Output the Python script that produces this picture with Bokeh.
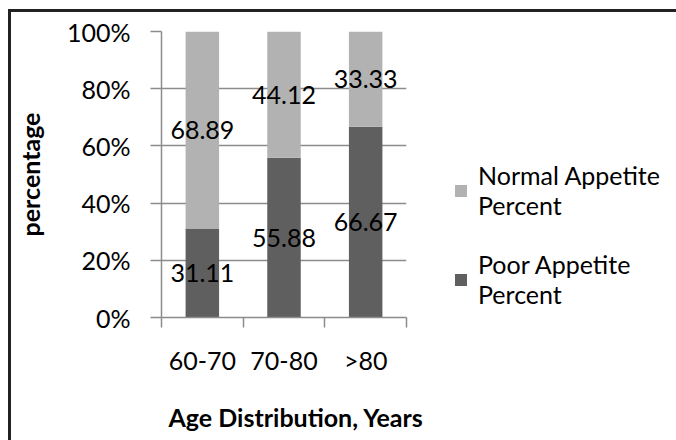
from bokeh.plotting import figure
from bokeh.models import (Range1d, FixedTicker, PrintfTickFormatter, Legend, LegendItem,
                          Title, ColumnDataSource)
from bokeh.core.properties import value
from bokeh.embed import file_html
from bokeh.resources import INLINE

# ---- data ----
categories = ["60-70", "70-80", ">80"]
poor_pct = [31.11, 55.88, 66.67]
normal_pct = [68.89, 44.12, 33.33]
y_ticks = [0, 20, 40, 60, 80, 100]
series_names = ["Normal Appetite\nPercent", "Poor Appetite\nPercent"]
x_title = "Age Distribution, Years"
y_title = "percentage"

FONT = "Lato"
DARK = "#5f5f5f"
LIGHT = "#b2b2b2"
GRID = "#8c8c8c"
FS = "25px"

xs = [i + 0.5 for i in range(len(categories))]
src = ColumnDataSource(dict(x=xs, poor=poor_pct, normal=normal_pct))

p = figure(frame_width=245, frame_height=286, output_backend="svg", toolbar_location=None,
           x_range=Range1d(0, len(categories)), y_range=Range1d(0, 100),
           min_border_left=150, min_border_right=265, min_border_top=19,
           min_border_bottom=119)
p.styles = {"border-top": "3px solid #222222", "border-left": "3px solid #222222",
            "margin-left": "8px", "margin-top": "9px"}
p.outline_line_color = None
p.background_fill_color = "white"

r = p.vbar_stack(["poor", "normal"], x="x", width=0.41, color=[DARK, LIGHT],
                 line_color=None, source=src)

# data labels at segment centers
lab_x = xs + xs
lab_y = [v / 2 for v in poor_pct] + [a + b / 2 for a, b in zip(poor_pct, normal_pct)]
lab_t = ["%.2f" % v for v in poor_pct] + ["%.2f" % v for v in normal_pct]
p.text(x=lab_x, y=lab_y, text=lab_t, text_align="center", text_baseline="middle",
       text_font=value(FONT), text_font_size=FS, text_color="black")

# grid
p.xgrid.visible = False
p.ygrid.ticker = FixedTicker(ticks=y_ticks)
p.ygrid.grid_line_color = GRID
p.ygrid.grid_line_width = 1.5

# y axis
ya = p.yaxis[0]
ya.ticker = FixedTicker(ticks=y_ticks, minor_ticks=[])
ya.formatter = PrintfTickFormatter(format="%d%%")
ya.major_tick_out = 11
ya.major_tick_in = 0
ya.minor_tick_out = 0
ya.minor_tick_in = 0
ya.axis_line_color = GRID
ya.axis_line_width = 1.5
ya.major_tick_line_color = GRID
ya.major_tick_line_width = 1.5
ya.major_label_standoff = 20
ya.major_label_text_font = FONT
ya.major_label_text_font_size = FS
ya.major_label_text_color = "black"
ya.axis_label = y_title
ya.axis_label_text_font = FONT
ya.axis_label_text_font_style = "bold"
ya.axis_label_text_font_size = FS
ya.axis_label_text_color = "black"
ya.axis_label_standoff = 19

# x axis
xa = p.xaxis[0]
xa.ticker = FixedTicker(ticks=xs, minor_ticks=list(range(len(categories) + 1)))
xa.major_label_overrides = {x: c for x, c in zip(xs, categories)}
xa.major_tick_out = 0
xa.major_tick_in = 0
xa.minor_tick_out = 10
xa.minor_tick_in = 0
xa.minor_tick_line_color = GRID
xa.minor_tick_line_width = 1.5
xa.axis_line_color = GRID
xa.axis_line_width = 1.5
xa.major_label_standoff = 17
xa.major_label_text_font = FONT
xa.major_label_text_font_size = FS
xa.major_label_text_color = "black"

p.add_layout(Title(text=x_title, align="left", offset=7, standoff=44,
                   vertical_align="bottom",
                   text_font=FONT, text_font_style="bold", text_font_size=FS,
                   text_color="black"), "below")

legend = Legend(items=[LegendItem(label=series_names[0], renderers=[r[1]]),
                       LegendItem(label=series_names[1], renderers=[r[0]])],
                location=(47, 8), glyph_width=15, glyph_height=15, label_standoff=10,
                spacing=29, padding=0, margin=0, border_line_color=None,
                background_fill_alpha=0, label_text_font=FONT, label_text_font_size=FS,
                label_text_color="black", label_text_line_height=1.5)
p.add_layout(legend, "right")

open("out.html", "w").write(file_html(p, INLINE))
